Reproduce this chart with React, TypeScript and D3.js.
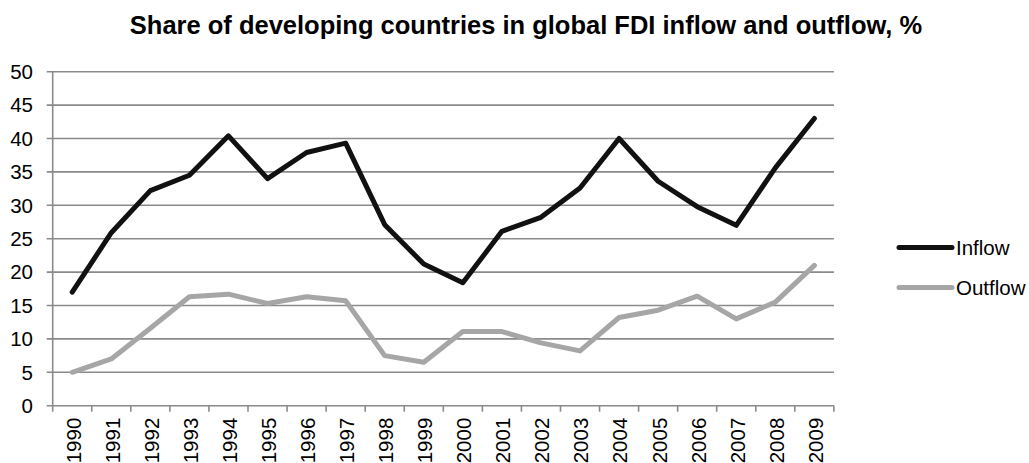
import React from "react";
import * as d3 from "d3";

const years = ["1990","1991","1992","1993","1994","1995","1996","1997","1998","1999","2000","2001","2002","2003","2004","2005","2006","2007","2008","2009"];
const inflow = [17.0, 25.9, 32.2, 34.5, 40.4, 34.0, 37.9, 39.3, 27.1, 21.2, 18.4, 26.1, 28.2, 32.6, 40.0, 33.6, 29.8, 27.0, 35.6, 43.0];
const outflow = [5.0, 7.0, 11.6, 16.3, 16.7, 15.3, 16.3, 15.7, 7.5, 6.5, 11.1, 11.1, 9.4, 8.2, 13.2, 14.3, 16.4, 13.0, 15.5, 21.0];
const yTicks = [0, 5, 10, 15, 20, 25, 30, 35, 40, 45, 50];
const seriesNames = ["Inflow", "Outflow"];
const seriesColors = ["#111111", "#a6a6a6"];
const title = "Share of developing countries in global FDI inflow and outflow, %";

const W = 1029, H = 463;
const L = 52.7, R = 833.9, T = 71.7, B = 405.7;
const FONT = "'Liberation Sans', Arial, sans-serif";

export default function App() {
  const x = d3.scaleBand<string>().domain(years).range([L, R]).padding(0);
  const y = d3.scaleLinear().domain([0, 50]).range([B, T]);
  const cx = (i: number) => (x(years[i]) as number) + x.bandwidth() / 2;
  const line = d3.line<number>().x((_, i) => cx(i)).y((d) => y(d));
  const series = [inflow, outflow];
  const boundaries = d3.range(years.length + 1).map((i) => L + i * x.bandwidth());

  return (
    <svg width={W} height={H} style={{ position: "absolute", left: 0, top: 0, background: "#fff" }}>
      <text x={526} y={34} textAnchor="middle" fontFamily={FONT} fontWeight="bold" fontSize={25.5} fill="#000">{title}</text>
      {yTicks.map((t) => (
        <g key={t}>
          <line x1={L - 6} x2={R} y1={y(t)} y2={y(t)} stroke="#8a8a8a" strokeWidth={1.6} />
          <text x={33} y={y(t)} dy="0.36em" textAnchor="end" fontFamily={FONT} fontSize={20.5} fill="#000">{t}</text>
        </g>
      ))}
      <line x1={L} x2={L} y1={T} y2={B} stroke="#8a8a8a" strokeWidth={1.6} />
      {boundaries.map((bx, i) => (
        <line key={i} x1={bx} x2={bx} y1={B} y2={B + 6} stroke="#8a8a8a" strokeWidth={1.6} />
      ))}
      {years.map((yr, i) => (
        <text key={yr} transform={`translate(${cx(i) + 1},${B + 12}) rotate(-90)`} textAnchor="end" dy="0.36em" fontFamily={FONT} fontSize={20.5} fill="#000">{yr}</text>
      ))}
      {series.map((s, k) => (
        <path key={k} d={line(s) as string} fill="none" stroke={seriesColors[k]} strokeWidth={5} strokeLinejoin="round" strokeLinecap="round" />
      ))}
      {seriesNames.map((n, k) => (
        <g key={n}>
          <line x1={899} x2={952} y1={247.5 + k * 40} y2={247.5 + k * 40} stroke={seriesColors[k]} strokeWidth={5} strokeLinecap="round" />
          <text x={956} y={247.5 + k * 40} dy="0.36em" fontFamily={FONT} fontSize={20.5} fill="#000">{n}</text>
        </g>
      ))}
    </svg>
  );
}
